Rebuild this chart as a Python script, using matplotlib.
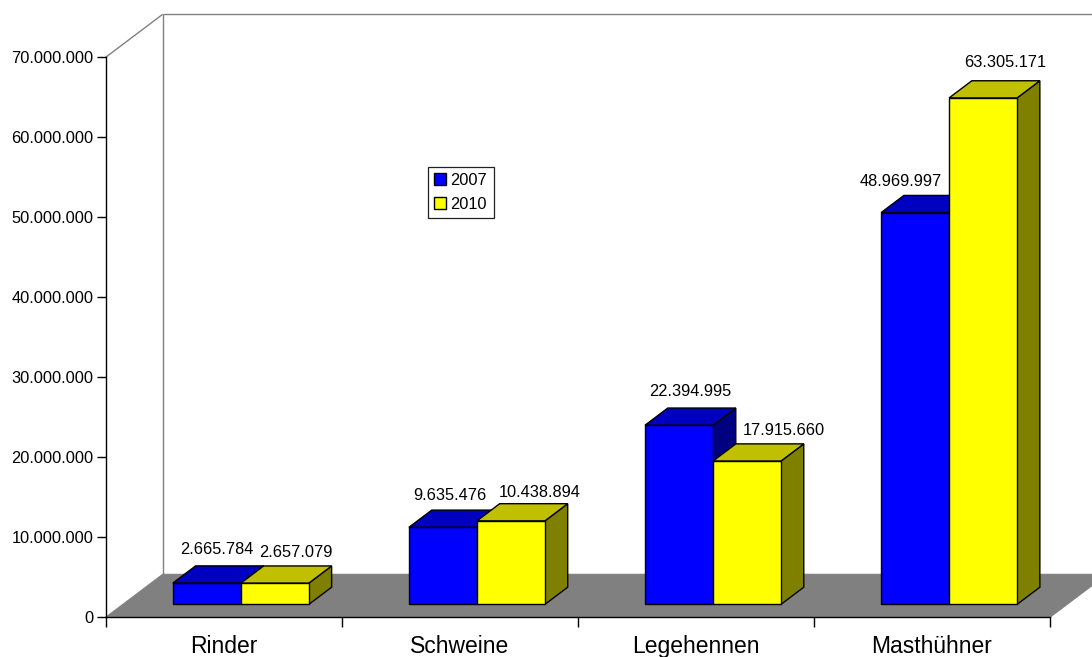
import matplotlib
matplotlib.use("Agg")
import matplotlib.pyplot as plt
from matplotlib.patches import Polygon, Patch

plt.rcParams["font.family"] = ["Liberation Sans", "DejaVu Sans"]

# Tierbestände
categories = ["Rinder", "Schweine", "Legehennen", "Masthühner"]
years = ["2007", "2010"]
values_2007 = [2665784, 9635476, 22394995, 48969997]
values_2010 = [2657079, 10438894, 17915660, 63305171]
y_ticks = [0, 10_000_000, 20_000_000, 30_000_000, 40_000_000,
           50_000_000, 60_000_000, 70_000_000]

series = [values_2007, values_2010]
# front, top, side colours of each series
face_colors = [("#0000ff", "#0000c0", "#000080"),
               ("#ffff00", "#c0c000", "#808000")]

# label offsets (pixels) relative to the top-front centre of each bar
label_offsets = [
    [(10, -29), (7, -27), (11, -29), (-14, -27)],
    [(21, -26), (29, -24), (37, -26), (22, -31)],
]

W, H, DPI = 1092, 657, 100
fig = plt.figure(figsize=(W / DPI, H / DPI), dpi=DPI)

ax_left, ax_right = 105.7, 1050.0
ax_top, ax_bottom = 57.3, 617.3
ax = fig.add_axes([ax_left / W, (H - ax_bottom) / H,
                   (ax_right - ax_left) / W, (ax_bottom - ax_top) / H])
ymax = 70_000_000
ax.set_xlim(0, len(categories))
ax.set_ylim(0, ymax)

px_per_x = (ax_right - ax_left) / len(categories)
px_per_y = (ax_bottom - ax_top) / ymax

# depth vector of the plot box (pixels -> data units)
depth_px = (57.0, 43.0)
DX = depth_px[0] / px_per_x
DY = depth_px[1] / px_per_y

grey = "#808080"
n = len(categories)
small_fs = 11.8

# floor
floor = Polygon([(0, 0), (n, 0), (n + DX, DY), (DX, DY)], closed=True,
                facecolor=grey, edgecolor=grey, lw=0.8, clip_on=False, zorder=1)
ax.add_patch(floor)

# walls
wall_kw = dict(color=grey, lw=1.0, clip_on=False, zorder=1.5,
               solid_capstyle="butt")
ax.plot([0, DX], [ymax, ymax + DY], **wall_kw)
ax.plot([DX, DX], [DY, ymax + DY], **wall_kw)
ax.plot([DX, n + DX], [ymax + DY, ymax + DY], **wall_kw)

# bars
gap = 0.212
bar_w = (1 - 2 * gap) / 2
front_f, back_f = 0.3, 0.7
fx, fy = front_f * DX, front_f * DY
ddx, ddy = (back_f - front_f) * DX, (back_f - front_f) * DY

z = 3
for i in range(n):
    for j, vals in enumerate(series):
        v = vals[i]
        xl = i + gap + j * bar_w + fx
        xr = xl + bar_w
        yb = fy
        yt = fy + v
        c_front, c_top, c_side = face_colors[j]
        kw = dict(closed=True, edgecolor="black", lw=1.0,
                  joinstyle="miter", clip_on=False)
        side = Polygon([(xr, yb), (xr + ddx, yb + ddy), (xr + ddx, yt + ddy),
                        (xr, yt)], facecolor=c_side, zorder=z, **kw)
        top = Polygon([(xl, yt), (xr, yt), (xr + ddx, yt + ddy),
                       (xl + ddx, yt + ddy)], facecolor=c_top, zorder=z, **kw)
        front = Polygon([(xl, yb), (xr, yb), (xr, yt), (xl, yt)],
                        facecolor=c_front, zorder=z + 0.5, **kw)
        ax.add_patch(side)
        ax.add_patch(top)
        ax.add_patch(front)
        z += 1

        ox, oy = label_offsets[j][i]
        ax.annotate(f"{v:,}".replace(",", "."),
                    xy=((xl + xr) / 2, yt),
                    xytext=(ox * 72 / DPI, -oy * 72 / DPI),
                    textcoords="offset points", ha="center", va="baseline",
                    fontsize=small_fs, color="black", zorder=50,
                    annotation_clip=False)

# axes styling
for s in ("top", "right"):
    ax.spines[s].set_visible(False)
for s in ("left", "bottom"):
    ax.spines[s].set_color("black")
    ax.spines[s].set_linewidth(1.0)
    ax.spines[s].set_zorder(2)
ax.set_facecolor("none")

ax.set_yticks(y_ticks)
ax.set_yticklabels([f"{t:,}".replace(",", ".") for t in y_ticks])
ax.tick_params(axis="y", direction="out", length=6.5, width=1.0,
               pad=2.5, labelsize=small_fs, colors="black")

ax.set_xticks(range(n + 1))
ax.set_xticklabels([])
ax.set_xticks([i + 0.5 for i in range(n)], minor=True)
ax.set_xticklabels(categories, minor=True)
ax.tick_params(axis="x", which="major", direction="out", length=7.2,
               width=1.0, colors="black")
ax.tick_params(axis="x", which="minor", length=0, pad=13,
               labelsize=16.5, labelcolor="black")

handles = [Patch(facecolor=face_colors[k][0], edgecolor="black", lw=1.0,
                 label=years[k]) for k in range(len(years))]
leg = fig.legend(handles=handles, loc="upper left",
                 bbox_to_anchor=(428 / W, 1 - 166.7 / H),
                 frameon=True, fancybox=False, framealpha=1,
                 edgecolor="#222222", fontsize=small_fs, borderpad=0.38,
                 handlelength=0.7, handleheight=0.7, handletextpad=0.3,
                 labelspacing=0.55, borderaxespad=0)
leg.get_frame().set_linewidth(0.9)

fig.savefig("out.png", dpi=DPI)
